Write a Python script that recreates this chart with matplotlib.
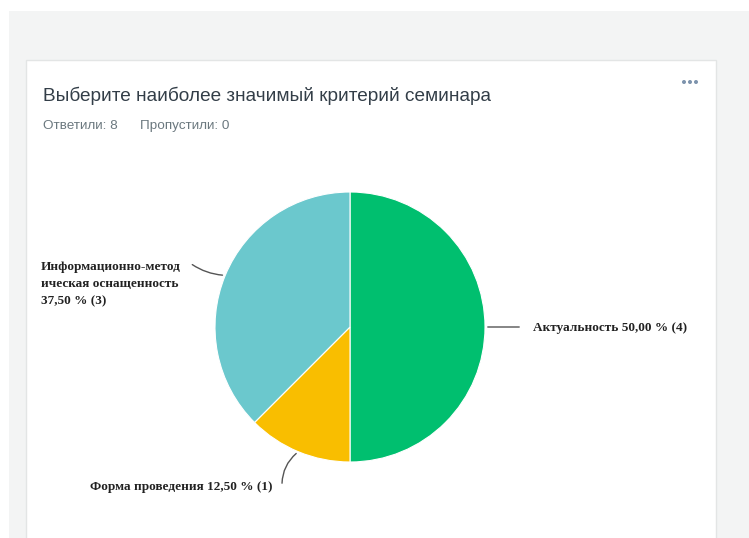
import matplotlib
matplotlib.use("Agg")
import matplotlib.pyplot as plt
from matplotlib.patches import Rectangle, Ellipse
import numpy as np

# ---- data ----
categories = ["Актуальность", "Форма проведения", "Информационно-метод\nическая оснащенность"]
counts = [4, 1, 3]
percents = ["50,00 %", "12,50 %", "37,50 %"]
colors = ["#00BF6F", "#F9BE00", "#6BC8CD"]
title = "Выберите наиболее значимый критерий семинара"
answered_label = "Ответили: 8"
skipped_label = "Пропустили: 0"

W, H = 749, 538
fig = plt.figure(figsize=(W / 100, H / 100), dpi=100)
fig.patch.set_facecolor("white")

# background / card layer in pixel coordinates
bg = fig.add_axes([0, 0, 1, 1])
bg.set_xlim(0, W)
bg.set_ylim(H, 0)
bg.axis("off")
bg.add_patch(Rectangle((9, 11), W - 9, H - 11, facecolor="#F3F4F4", edgecolor="none"))
bg.add_patch(Rectangle((26, 60), 690, H, facecolor="white", edgecolor="#E3E5E5", linewidth=1))
for dx in (-6, 0, 6):
    bg.add_patch(Ellipse((690 + dx, 82), 4, 4, facecolor="#7D93AD", edgecolor="none"))

bg.text(43, 96, title, fontsize=13.65, family="Liberation Sans", color="#333E48",
        va="center", ha="left")
bg.text(43, 126, answered_label, fontsize=9.7, family="Liberation Sans", color="#6B787F",
        va="center", ha="left")
bg.text(140, 126, skipped_label, fontsize=9.7, family="Liberation Sans", color="#6B787F",
        va="center", ha="left")

# pie axes: center (350,327), radius 135 px
cx, cy, r = 350, 327, 135
ax = fig.add_axes([(cx - r) / W, (H - cy - r) / H, 2 * r / W, 2 * r / H])
wedges, _ = ax.pie(counts, colors=colors, startangle=90, counterclock=False,
                   wedgeprops=dict(linewidth=0.8, edgecolor="white"))
ax.set_xlim(-1, 1)
ax.set_ylim(-1, 1)
ax.set_aspect("equal")

labels = [
    f"{categories[0]} {percents[0]} ({counts[0]})",
    f"{categories[1]} {percents[1]} ({counts[1]})",
    f"{categories[2]}\n{percents[2]} ({counts[2]})",
]

def px(x, y):
    return ((x - cx) / r, -(y - cy) / r)

text_pos = [px(533, 328), px(272, 487), px(41, 284)]
line_end = [px(522, 327), px(282, 486), px(190, 263)]
has = ["left", "right", "left"]
rads = [0.0, -0.25, 0.15]
spacings = [1.2, 1.2, 1.6]

for w, lab, tp, le, ha, rad, ls in zip(wedges, labels, text_pos, line_end, has, rads, spacings):
    ang = np.deg2rad((w.theta1 + w.theta2) / 2)
    start = (np.cos(ang), np.sin(ang))
    ax.annotate("", xy=start, xytext=le, xycoords="data", textcoords="data",
                arrowprops=dict(arrowstyle="-", color="#555555", lw=1.0,
                                connectionstyle=f"arc3,rad={rad}"),
                annotation_clip=False)
    ax.text(tp[0], tp[1], lab, ha=ha, va="center", fontsize=9.5,
            family="Liberation Serif", fontweight="bold", color="#222222",
            linespacing=ls, clip_on=False)

fig.savefig("out.png", dpi=100)
